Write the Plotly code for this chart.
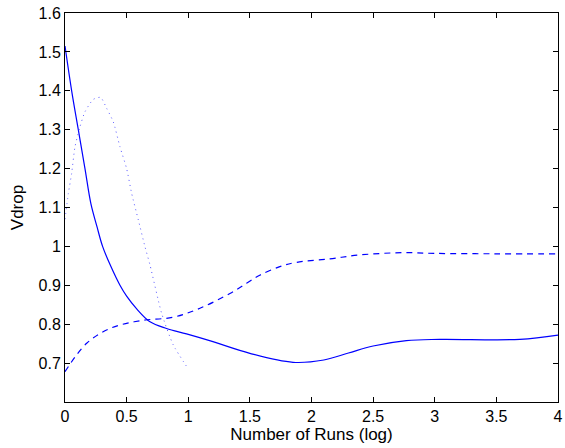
import plotly.graph_objects as go

# Solid curve
solid_x = [0, 0.054, 0.108, 0.162, 0.21, 0.26, 0.305, 0.37, 0.446, 0.5, 0.58, 0.69, 0.824, 0.986, 1.18, 1.5, 1.85, 2.1, 2.3, 2.5, 2.77, 3.04, 3.69, 4.0]
solid_y = [1.515, 1.4, 1.3, 1.2, 1.11, 1.05, 1.0, 0.95, 0.9, 0.872, 0.84, 0.806, 0.789, 0.775, 0.757, 0.725, 0.702, 0.708, 0.726, 0.744, 0.758, 0.761, 0.761, 0.772]

# Dashed curve
dashed_x = [0, 0.176, 0.365, 0.608, 0.878, 1.095, 1.338, 1.473, 1.58, 1.743, 1.878, 2.148, 2.39, 2.75, 3.0, 3.5, 4.0]
dashed_y = [0.678, 0.751, 0.789, 0.809, 0.818, 0.841, 0.879, 0.905, 0.926, 0.948, 0.959, 0.968, 0.978, 0.984, 0.982, 0.981, 0.981]

# Dotted curve
dotted_x = [0, 0.027, 0.054, 0.081, 0.122, 0.162, 0.23, 0.289, 0.338, 0.392, 0.446, 0.5, 0.541, 0.595, 0.649, 0.689, 0.784, 0.878, 1.0]
dotted_y = [1.07, 1.136, 1.188, 1.256, 1.308, 1.346, 1.378, 1.383, 1.355, 1.32, 1.256, 1.2, 1.136, 1.068, 0.999, 0.953, 0.828, 0.747, 0.685]

x_ticks = [0, 0.5, 1, 1.5, 2, 2.5, 3, 3.5, 4]
x_tick_labels = ["0", "0.5", "1", "1.5", "2", "2.5", "3", "3.5", "4"]
y_ticks = [0.7, 0.8, 0.9, 1.0, 1.1, 1.2, 1.3, 1.4, 1.5, 1.6]
y_tick_labels = ["0.7", "0.8", "0.9", "1", "1.1", "1.2", "1.3", "1.4", "1.5", "1.6"]

blue = "rgb(0,0,255)"
fig = go.Figure()
fig.add_trace(go.Scatter(x=solid_x, y=solid_y, mode="lines",
                         line=dict(color=blue, width=1.2, shape="spline", smoothing=1.0)))
fig.add_trace(go.Scatter(x=dashed_x, y=dashed_y, mode="lines",
                         line=dict(color=blue, width=1.2, dash="6px,5px", shape="spline", smoothing=1.0)))
fig.add_trace(go.Scatter(x=dotted_x, y=dotted_y, mode="lines",
                         line=dict(color="rgb(90,90,255)", width=1, dash="1px,4px", shape="spline", smoothing=0.6)))

font_family = "Liberation Sans, Arial, Helvetica"
axis_common = dict(showline=True, linecolor="black", linewidth=1, mirror="ticks",
                   ticks="inside", ticklen=5, tickcolor="black", showgrid=False,
                   zeroline=False, automargin=False, ticklabeloverflow="allow",
                   tickfont=dict(family=font_family, size=16, color="black"))

fig.update_layout(
    width=565, height=448,
    margin=dict(l=65, r=7, t=13, b=46),
    paper_bgcolor="white", plot_bgcolor="white",
    showlegend=False,
    font=dict(family=font_family, size=16, color="black"),
    xaxis=dict(range=[0, 4], tickvals=x_ticks, ticktext=x_tick_labels,
               title=dict(text="Number of Runs (log)", standoff=0, font=dict(size=17)), **axis_common),
    yaxis=dict(range=[0.6, 1.6], tickvals=y_ticks, ticktext=y_tick_labels,
               title=dict(text="Vdrop", standoff=10, font=dict(size=17)), **axis_common),
)

fig.write_html("out.html", config={"displayModeBar": False},
               post_script="document.body.style.margin='0';document.body.style.overflow='hidden';")
